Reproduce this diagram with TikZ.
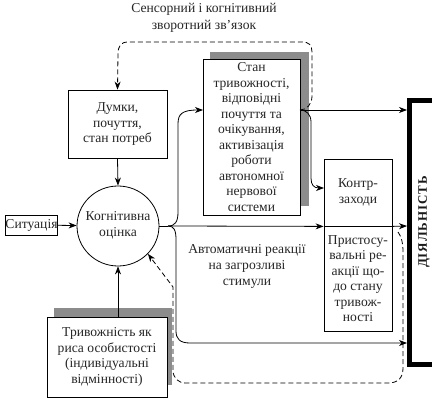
\documentclass[tikz,border=0pt]{standalone}
\usepackage{fontspec}
\setmainfont{Liberation Serif}
\usetikzlibrary{arrows.meta,shapes.geometric}
\begin{document}
\begin{tikzpicture}[x=1pt,y=-1pt,
  txt/.style={font=\fontsize{13.6}{15.5}\selectfont, text=black!85, align=center, inner sep=0pt},
  box/.style={draw, line width=0.8pt, fill=white, inner sep=0pt, txt},
  tip/.style={-{Stealth[length=8pt,width=6pt,inset=2.5pt]}},
  ln/.style={line width=0.8pt},
  arr/.style={ln, tip},
  dsh/.style={line width=0.8pt, dash pattern=on 5pt off 3pt, tip},
  shadow/.style={fill=black!45, draw=none}]
\useasboundingbox (0,0) rectangle (437,401);
% shadows
\fill[shadow] (210,52) rectangle (309,206);
\fill[shadow] (54,308) rectangle (172,385);
% boxes
\node[box, minimum width=97pt, minimum height=156pt] (stan) at (251.5,137) {Стан\\тривожності,\\відповідні\\почуття та\\очікування,\\активізація\\роботи\\автономної\\нервової\\системи};
\node[box, minimum width=99pt, minimum height=68pt] (dumky) at (117.5,124) {Думки,\\почуття,\\стан потреб};
\node[draw, line width=0.8pt, ellipse, minimum width=82pt, minimum height=80pt, inner sep=0pt] (cog) at (118,226) {};
\node[txt, font=\fontsize{13.6}{16}\selectfont] (cogt) at (118,225) {Когнітивна\\оцінка};
\node[box, minimum width=51pt, minimum height=20pt] (sit) at (31.5,225) {Ситуація};
\node[box, minimum width=120pt, minimum height=80pt] (tryv) at (107,357) {Тривожність як\\риса особистості\\(індивідуальні\\відмінності)};
\node[box, minimum width=68pt, minimum height=67pt] (kontr) at (358,192.5) {Контр-\\заходи};
\node[box, minimum width=68pt, minimum height=105pt] (prist) at (358,278.5) {Пристосу-\\вальні ре-\\акції що-\\до стану\\тривож-\\ності};
% activity bar
\draw[line width=5pt, line cap=butt, line join=miter] (432,100.5) -- (409.5,100.5) -- (409.5,364.5) -- (432,364.5);
\node[font=\fontsize{13}{15}\selectfont\bfseries\addfontfeature{LetterSpace=7}, rotate=90, text=black!90] (act) at (424,222) {ДІЯЛЬНІСТЬ};
% texts
\node[txt, font=\fontsize{13.6}{17}\selectfont] (title) at (204,17.5) {Сенсорний і когнітивний\\зворотний зв’язок};
\node[txt, font=\fontsize{13.6}{16}\selectfont] (auto) at (247,266) {Автоматичні реакції\\на загрозливі\\стимули};
% coordinates
\coordinate (b1) at (407,110);
\coordinate (b2) at (407,226);
\coordinate (b3) at (407,343);
\coordinate (f) at (168,226);
\coordinate (s1) at (203,110);
\coordinate (s2) at (300,110);
\coordinate (k1) at (324,188);
\coordinate (d0) at (398,232);
% connectors
\draw[arr] (sit) -- (cog);
\draw[arr] (dumky.south) -- (cog.north);
\draw[arr] (tryv.north -| cog) -- (cog.south);
\draw[ln] (cog.east) -- (f);
\draw[arr] (f) .. controls (175,226) and (178,222) .. (178,212) -- (178,124) .. controls (178,114) and (182,110) .. (s1);
\draw[arr] (f) -- (kontr.south west);
\draw[arr] (kontr.south east) -- (b2);
\draw[arr] (f) .. controls (174,226) and (176,230) .. (176,240) -- (176,331) .. controls (176,339) and (180,343) .. (190,343) -- (b3);
\draw[arr] (s2) -- (b1);
\draw[arr] (s2) .. controls (306,110) and (311,114) .. (311,122) -- (311,178) .. controls (311,185) and (314,188) .. (k1);
\draw[dsh] (s2) .. controls (307,110) and (312,104) .. (312,96) -- (312,52) .. controls (312,45) and (309,42) .. (302,42) -- (128,42) .. controls (121,42) and (118,46) .. (118,54) -- (dumky.north);
\draw[dsh] (d0) .. controls (401,236) and (403,242) .. (403,252) -- (403,368) .. controls (403,378) and (398,383) .. (388,383) -- (186,383) .. controls (178,383) and (173,378) .. (173,370) -- (173,287) -- (cog.-43);
\end{tikzpicture}
\end{document}
